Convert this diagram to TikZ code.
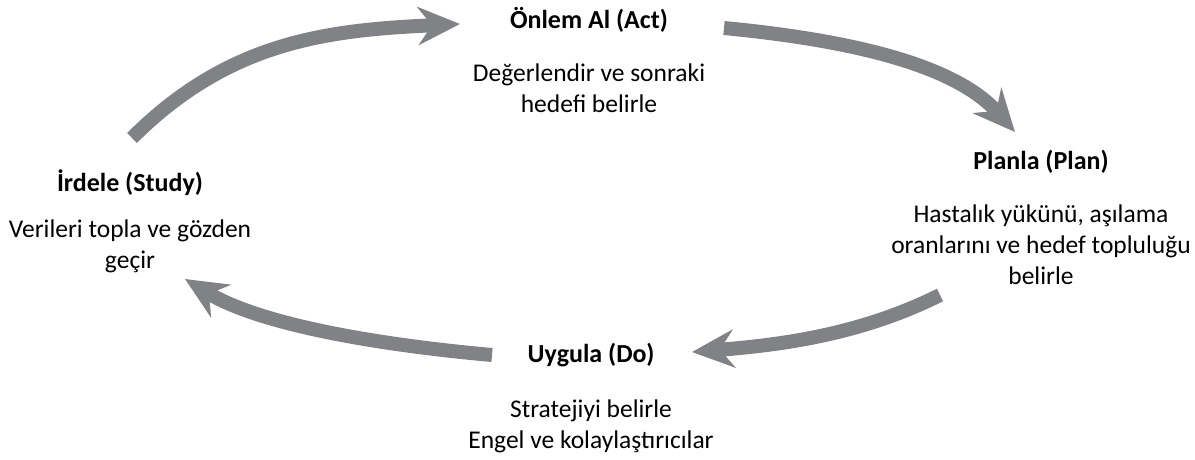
\documentclass[tikz,border=0pt]{standalone}
\usepackage{fontspec}
\setmainfont{Carlito}
\usetikzlibrary{arrows.meta,positioning}
\definecolor{cyclegray}{HTML}{808285}
\tikzset{
    phasetitle/.style={font=\fontsize{26}{31}\selectfont\bfseries, inner sep=0pt},
    phasetext/.style={font=\fontsize{25.5}{31}\selectfont, align=center, inner sep=0pt},
    cyclearrow/.style={draw=cyclegray, line width=14pt,
        -{Stealth[length=42pt, width=38pt, inset=14pt, fill=cyclegray]}}
}
\begin{document}
\begin{tikzpicture}[x=1pt, y=-1pt]
    \useasboundingbox (0,0) rectangle (1195,460);
    % phase titles
    \node[phasetitle] (act)   at (589,20)  {Önlem Al (Act)};
    \node[phasetitle] (plan)  at (1041,162) {Planla (Plan)};
    \node[phasetitle] (do)    at (591,355) {Uygula (Do)};
    \node[phasetitle] (study) at (130,183) {İrdele (Study)};
    % descriptions
    \node[phasetext, below=31pt of act]   (acttext)   {Değerlendir ve sonraki\\hedefi belirle};
    \node[phasetext, below=31pt of plan]  (plantext)  {Hastalık yükünü, aşılama\\oranlarını ve hedef topluluğu\\belirle};
    \node[phasetext, below=33pt of do]    (dotext)    {Stratejiyi belirle\\Engel ve kolaylaştırıcılar};
    \node[phasetext, below=23pt of study] (studytext) {Verileri topla ve gözden\\geçir};
    % arrow ends
    \coordinate (a1s) at (132,138);  \coordinate (a1e) at (460,24);
    \coordinate (a2s) at (724,28);   \coordinate (a2e) at (1015,132);
    \coordinate (a3s) at (940,295);  \coordinate (a3e) at (692,352);
    \coordinate (a4s) at (492,355);  \coordinate (a4e) at (185,279);
    % cycle arrows
    \draw[cyclearrow] (a1s) .. controls (230,40) and (330,30) .. (a1e);
    \draw[cyclearrow] (a2s) .. controls (870,42) and (960,70) .. (a2e);
    \draw[cyclearrow] (a3s) .. controls (860,335) and (780,345) .. (a3e);
    \draw[cyclearrow] (a4s) .. controls (380,345) and (260,325) .. (a4e);
\end{tikzpicture}
\end{document}
